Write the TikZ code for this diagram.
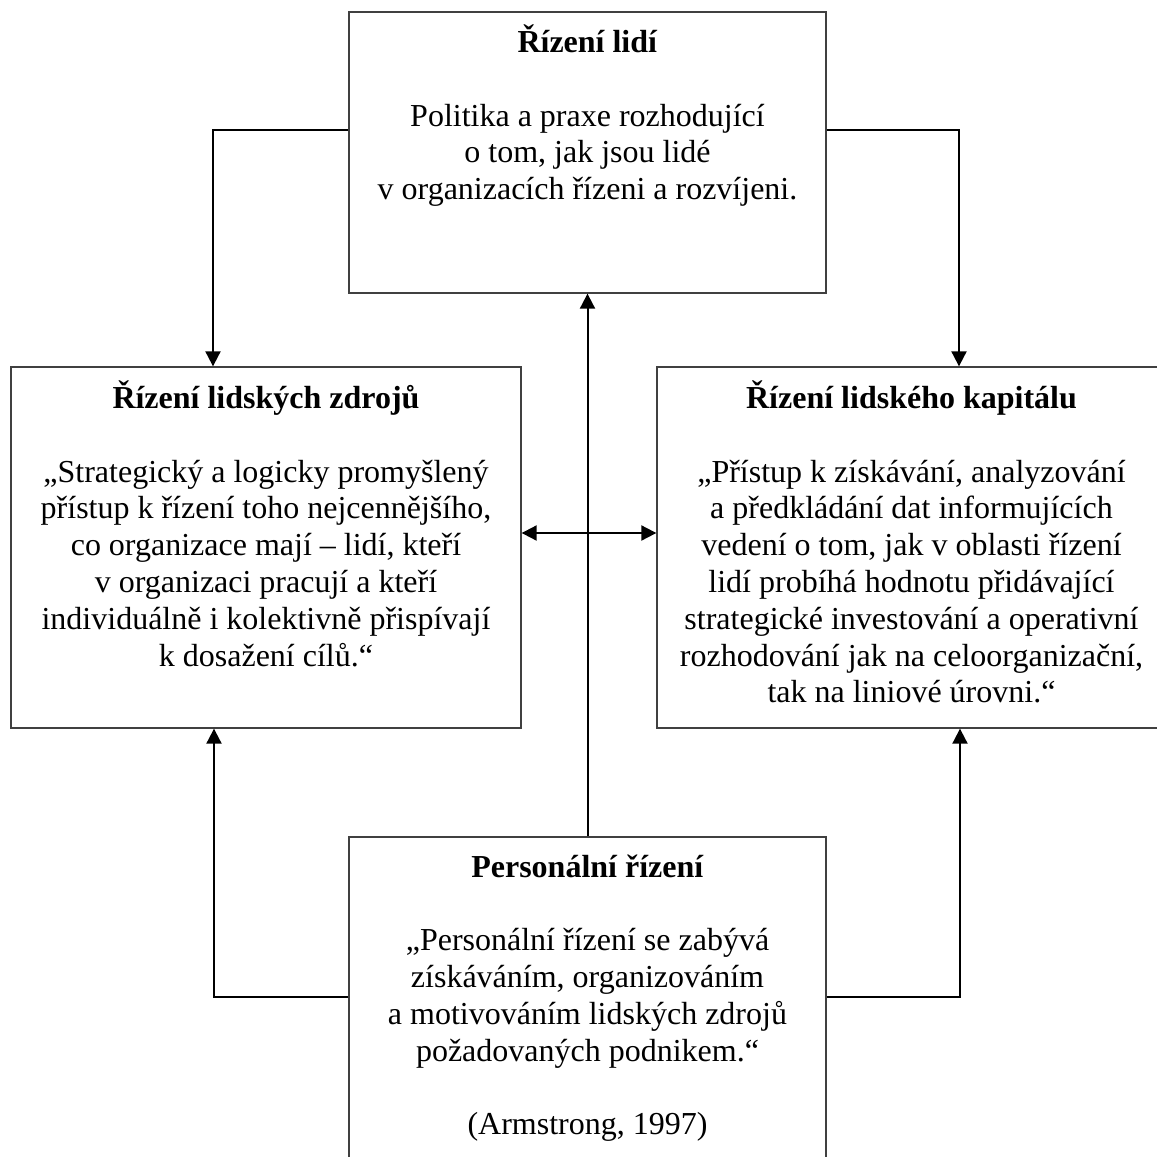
\documentclass[tikz,border=0pt]{standalone}
\usepackage{fontspec}
\setmainfont{Liberation Serif}
\usetikzlibrary{arrows.meta}
\begin{document}
\begin{tikzpicture}[x=0.75pt,y=-0.75pt,
  box/.style={draw=black!75, line width=1pt, rectangle, inner sep=0pt},
  txt/.style={anchor=north, align=center, inner sep=0pt, font=\fontsize{24}{27.6}\selectfont},
  conn/.style={line width=1.5pt, -{Triangle[length=11.25pt,width=11.25pt]}},
  dconn/.style={line width=1.5pt, {Triangle[length=11.25pt,width=11.25pt]}-{Triangle[length=11.25pt,width=11.25pt]}}]
\useasboundingbox (0,0) rectangle (1157,1157);
\clip (0,0) rectangle (1157,1157);
% boxes
\node[box, minimum width=477*0.75pt, minimum height=281*0.75pt] (top) at (587.5,152.5) {};
\node[box, minimum width=510*0.75pt, minimum height=361*0.75pt] (lhr) at (266,547.5) {};
\node[box, minimum width=509*0.75pt, minimum height=361*0.75pt] (rhc) at (911.5,547.5) {};
\node[box, minimum width=477*0.75pt, minimum height=343*0.75pt] (bot) at (587.5,1008.5) {};
% texts
\node[txt] (toptxt) at (587.5,24.5) {\textbf{Řízení lidí}\\[27.6pt]
Politika a praxe rozhodující\\
o tom, jak jsou lidé\\
v organizacích řízeni a rozvíjeni.};
\node[txt] (lhrtxt) at (266,380.5) {\textbf{Řízení lidských zdrojů}\\[27.6pt]
„Strategický a logicky promyšlený\\
přístup k řízení toho nejcennějšího,\\
co organizace mají – lidí, kteří\\
v organizaci pracují a kteří\\
individuálně i kolektivně přispívají\\
k dosažení cílů.“};
\node[txt] (rhctxt) at (911.5,380.5) {\textbf{Řízení lidského kapitálu}\\[27.6pt]
„Přístup k získávání, analyzování\\
a předkládání dat informujících\\
vedení o tom, jak v oblasti řízení\\
lidí probíhá hodnotu přidávající\\
strategické investování a operativní\\
rozhodování jak na celoorganizační,\\
tak na liniové úrovni.“};
\node[txt] (bottxt) at (587.5,854.5) {\textbf{Personální řízení}\\[27.6pt]
„Personální řízení se zabývá\\
získáváním, organizováním\\
a motivováním lidských zdrojů\\
požadovaných podnikem.“\\[27.6pt]
(Armstrong, 1997)};
% connector bends
\coordinate (tl) at (213,130);
\coordinate (tr) at (959,130);
\coordinate (bl) at (214,997);
\coordinate (br) at (960,997);
\coordinate (mid) at (587.5,533);
% connectors
\draw[conn] (top.west |- tl) -| (lhr.north -| tl);
\draw[conn] (top.east |- tr) -| (rhc.north -| tr);
\draw[conn] (bot.west |- bl) -| (lhr.south -| bl);
\draw[conn] (bot.east |- br) -| (rhc.south -| br);
\draw[conn] (bot.north) -- (top.south);
\draw[dconn] (lhr.east |- mid) -- (rhc.west |- mid);
\end{tikzpicture}
\end{document}
